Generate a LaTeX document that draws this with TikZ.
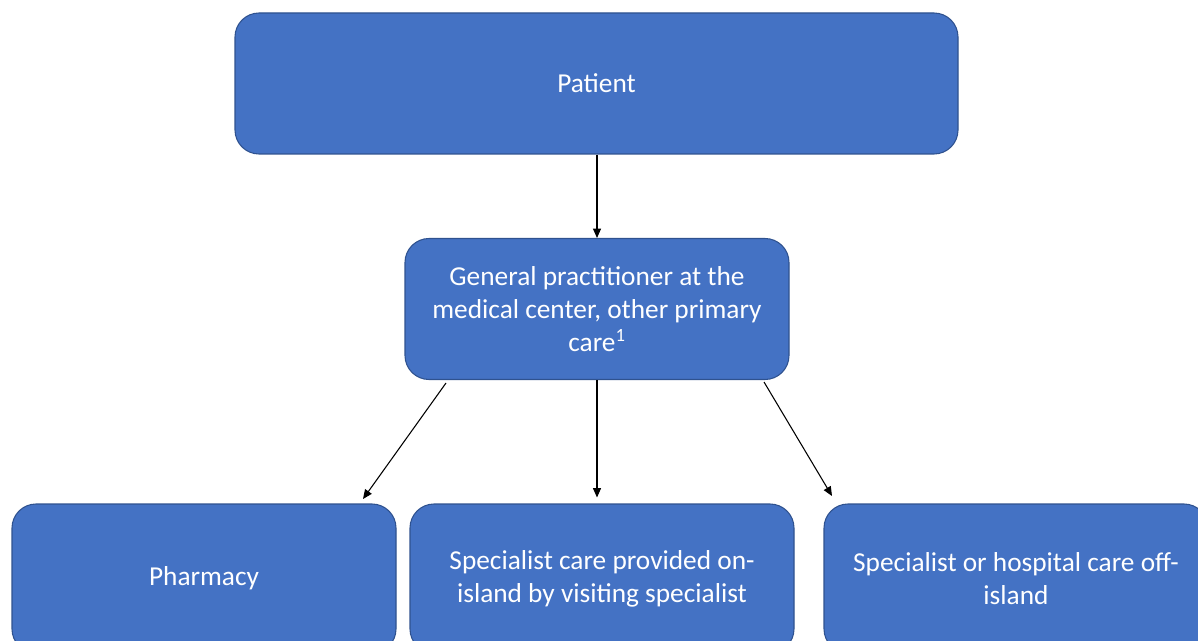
\documentclass[tikz,border=0pt]{standalone}
\usepackage{fontspec}
\setmainfont{Carlito}
\usetikzlibrary{arrows.meta}
\definecolor{boxfill}{HTML}{4472C4}
\definecolor{boxline}{HTML}{2F528F}
\begin{document}
\begin{tikzpicture}[x=0.75pt,y=-0.75pt,
  box/.style={draw=boxline, line width=0.8pt, fill=boxfill, rounded corners=18pt,
    text=white, align=center, font=\fontsize{20.5}{24.75}\selectfont,
    minimum height=105.75pt, inner sep=0pt},
  arr/.style={-{Triangle[length=7pt,width=6pt]}, line width=0.8pt, black}]
\useasboundingbox (0,0) rectangle (1198,641);
\begin{scope}
\clip (0,0) rectangle (1198,641);
\node[box, minimum width=542.25pt] (patient) at (596.5,83.5) {Patient};
\node[box, minimum width=288pt] (gp) at (597,309) {General practitioner at the\\medical center, other primary\\care\textsuperscript{\fontsize{14}{14}\selectfont 1}};
\node[box, minimum width=288pt, minimum height=111.75pt] (pharm) at (204,578.5) {Pharmacy};
\node[box, minimum width=288pt, minimum height=111.75pt] (onisl) at (602,578.5) {Specialist care provided on-\\island by visiting specialist};
\node[box, minimum width=288pt, minimum height=111.75pt] (offisl) at (1016,578.5) {Specialist or hospital care off-\\island};
\end{scope}
\coordinate (a1s) at (446,383); \coordinate (a1e) at (363,499);
\coordinate (a3s) at (764,382); \coordinate (a3e) at (832,496);
\draw[arr] (patient.south -| gp.north) -- (gp.north);
\draw[arr] (gp.south) -- ([yshift=4.5pt]gp.south |- onisl.north);
\draw[arr] (a1s) -- (a1e);
\draw[arr] (a3s) -- (a3e);
\end{tikzpicture}
\end{document}
